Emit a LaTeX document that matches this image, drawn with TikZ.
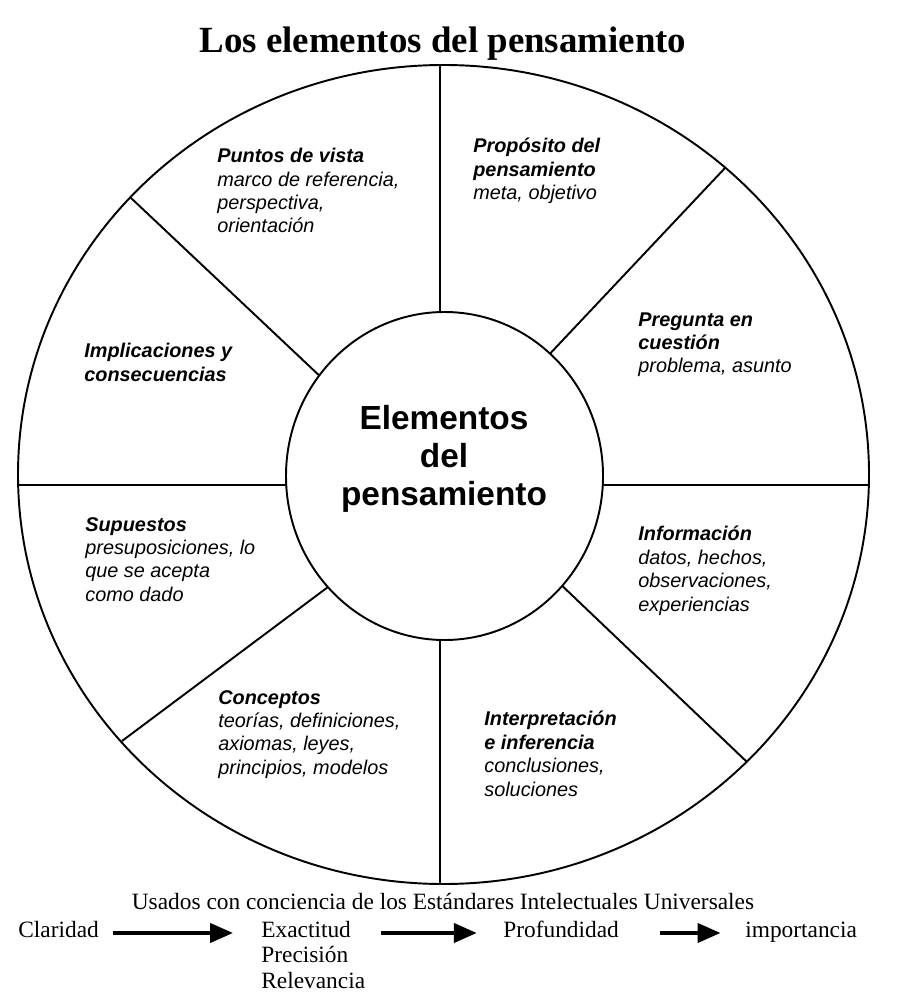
\documentclass[tikz,border=0pt]{standalone}
\usepackage{fontspec}
\setmainfont{Liberation Serif}
\setsansfont{Liberation Sans}
\usetikzlibrary{positioning, arrows.meta}

\begin{document}
\begin{tikzpicture}[
    x=0.02cm, y=-0.02cm,
    wheel line/.style={line width=1.1pt},
    sector/.style={anchor=north west, inner sep=0pt, align=left,
        font=\sffamily\itshape\fontsize{11.3}{13.3}\selectfont},
    core label/.style={align=center, inner sep=0pt,
        font=\sffamily\bfseries\fontsize{19}{21.6}\selectfont},
    std label/.style={anchor=base west, inner sep=0pt,
        font=\fontsize{13.3}{14.5}\selectfont},
    std arrow/.style={line width=1.8pt, -{Triangle[length=13pt, width=11pt]}}
]
\useasboundingbox (0,0) rectangle (916,1006);

% --- title ---
\node[anchor=base, font=\bfseries\fontsize{21}{25}\selectfont] (title) at (443,53) {Los elementos del pensamiento};

% --- wheel ---
\coordinate (wc) at (443.5,474.5);
\coordinate (hc) at (444.5,476);

% outer ends of the spokes
\coordinate (oN)  at (440,65);
\coordinate (oS)  at (440,884);
\coordinate (oW)  at (18,485);
\coordinate (oE)  at (869,485);
\coordinate (oNW) at (131,198);
\coordinate (oNE) at (725,168);
\coordinate (oSW) at (122,741);
\coordinate (oSE) at (747,762);

% inner ends (hidden under the hub)
\coordinate (iN)  at (440,320);
\coordinate (iS)  at (440,632);
\coordinate (iW)  at (294,485);
\coordinate (iE)  at (595,485);
\coordinate (iNW) at (324,380);
\coordinate (iNE) at (545,359);
\coordinate (iSW) at (336,581);
\coordinate (iSE) at (555,579);

\begin{scope}[wheel line]
    \draw (wc) ellipse [x radius=425.5, y radius=409.5];
    \foreach \s in {N, S, W, E, NW, NE, SW, SE}
        \draw (o\s) -- (i\s);
    \filldraw[fill=white] (hc) ellipse [x radius=158.5, y radius=164];
\end{scope}

\node[core label] (core) at (444,459) {Elementos\\del\\pensamiento};

% --- sectors ---
\node[sector] (vista) at (217,148) {\textbf{Puntos de vista}\\marco de referencia,\\perspectiva,\\orientación};
\node[sector] (proposito) at (473,138) {\textbf{Propósito del}\\\textbf{pensamiento}\\meta, objetivo};
\node[sector] (pregunta) at (638,312) {\textbf{Pregunta en}\\\textbf{cuestión}\\problema, asunto};
\node[sector] (implica) at (84,343) {\textbf{Implicaciones y}\\\textbf{consecuencias}};
\node[sector] (supuestos) at (85,517) {\textbf{Supuestos}\\presuposiciones, lo\\que se acepta\\como dado};
\node[sector] (info) at (638,526) {\textbf{Información}\\datos, hechos,\\observaciones,\\experiencias};
\node[sector] (conceptos) at (218,690) {\textbf{Conceptos}\\teorías, definiciones,\\axiomas, leyes,\\principios, modelos};
\node[sector] (interp) at (484,711) {\textbf{Interpretación}\\\textbf{e inferencia}\\conclusiones,\\soluciones};

% --- standards ---
\node[anchor=base, inner sep=0pt, font=\fontsize{13.3}{14.5}\selectfont] (usados) at (443,909) {Usados con conciencia de los Estándares Intelectuales Universales};

\node[std label] (claridad) at (18,937) {Claridad};
\node[std label] (exactitud) at (261,937) {Exactitud};
\node[std label] (precision) at (261,962) {Precisión};
\node[std label] (relevancia) at (261,988) {Relevancia};
\node[std label] (profundidad) at (503,937) {Profundidad};
\node[std label] (importancia) at (745,937) {importancia};

\draw[std arrow, shorten <=8pt, shorten >=16pt] (claridad.mid east) -- (claridad.mid east -| exactitud.west);
\draw[std arrow, shorten <=17pt, shorten >=15pt] (exactitud.mid east) -- (exactitud.mid east -| profundidad.west);
\draw[std arrow, shorten <=23pt, shorten >=14pt] (profundidad.mid east) -- (profundidad.mid east -| importancia.west);

\end{tikzpicture}
\end{document}
